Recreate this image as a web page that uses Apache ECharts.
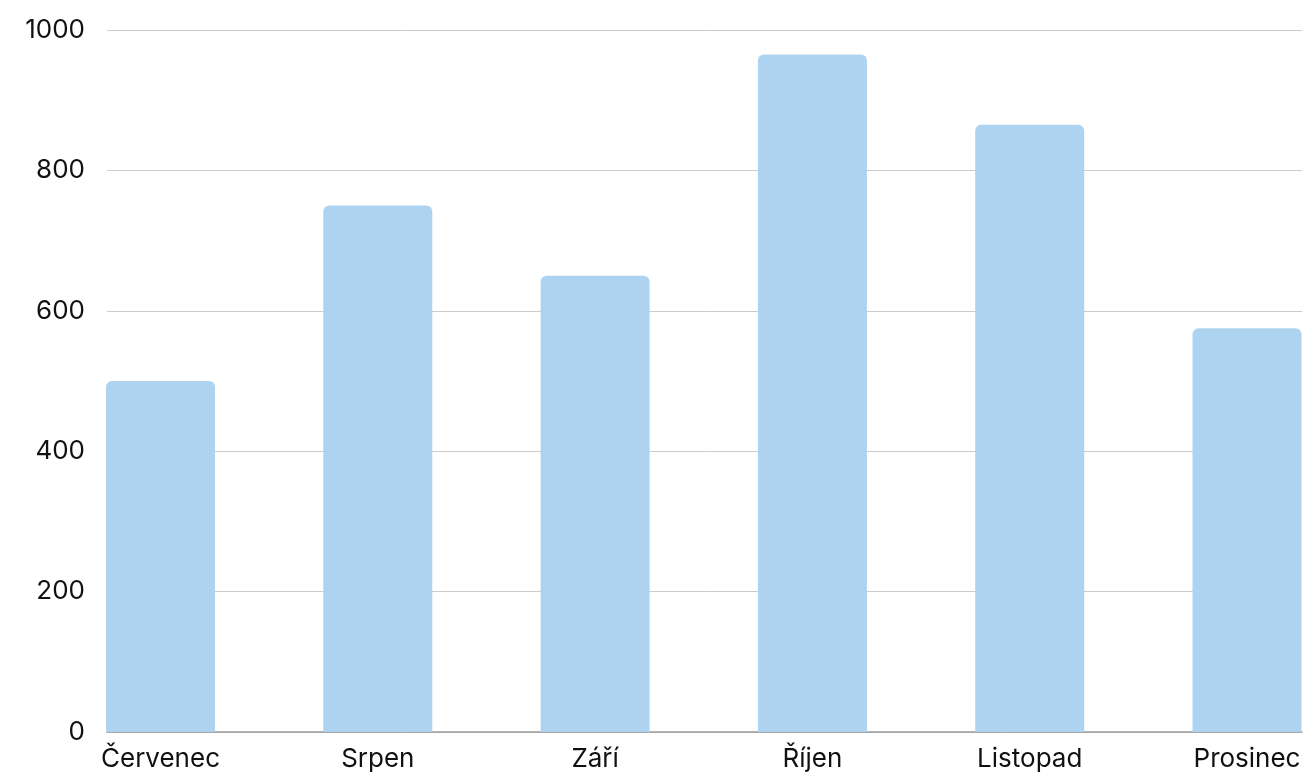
<!DOCTYPE html>
<html>
<head>
<meta charset="utf-8">
<script src="https://cdn.jsdelivr.net/npm/echarts@6/dist/echarts.min.js"></script>
<style>html,body{margin:0;padding:0;background:#fff}#c{width:1307px;height:772px}</style>
</head>
<body>
<div id="c"></div>
<script>
const categories = ['Červenec', 'Srpen', 'Září', 'Říjen', 'Listopad', 'Prosinec'];
const values = [500, 750, 650, 965, 865, 575];
const yTicks = [0, 200, 400, 600, 800, 1000];

const chart = echarts.init(document.getElementById('c'));
const font = 'Inter, "Noto Sans", sans-serif';
chart.setOption({
  animation: false,
  grid: [
    { left: 107, right: 5, top: 30, bottom: 40, containLabel: false, outerBoundsMode: 'none' },
    { left: 160.5, right: 60, top: 30, bottom: 40, containLabel: false, outerBoundsMode: 'none' }
  ],
  xAxis: [
    { gridIndex: 0, type: 'value', min: 0, max: 1,
      axisLine: { show: true, lineStyle: { color: '#9a9a9a', width: 1.5 } },
      axisTick: { show: false }, axisLabel: { show: false }, splitLine: { show: false } },
    { gridIndex: 1, type: 'category', data: categories, boundaryGap: false,
      axisLine: { show: false }, axisTick: { show: false },
      axisLabel: { color: '#111', fontFamily: font, fontSize: 26, margin: 14, interval: 0 } }
  ],
  yAxis: [
    { gridIndex: 0, type: 'value', min: yTicks[0], max: yTicks[yTicks.length - 1], interval: 200,
      axisLine: { show: false }, axisTick: { show: false },
      axisLabel: { color: '#111', fontFamily: font, fontSize: 26, margin: 22,
        formatter: v => String(v) },
      splitLine: { lineStyle: { color: '#cccccc', width: 1 } } },
    { gridIndex: 1, type: 'value', min: yTicks[0], max: yTicks[yTicks.length - 1], interval: 200,
      show: false, splitLine: { show: false } }
  ],
  series: [{
    type: 'bar', xAxisIndex: 1, yAxisIndex: 1, data: values,
    barWidth: 109,
    itemStyle: { color: '#add3f0', borderRadius: [6, 6, 0, 0] }
  }]
});
</script>
</body>
</html>
